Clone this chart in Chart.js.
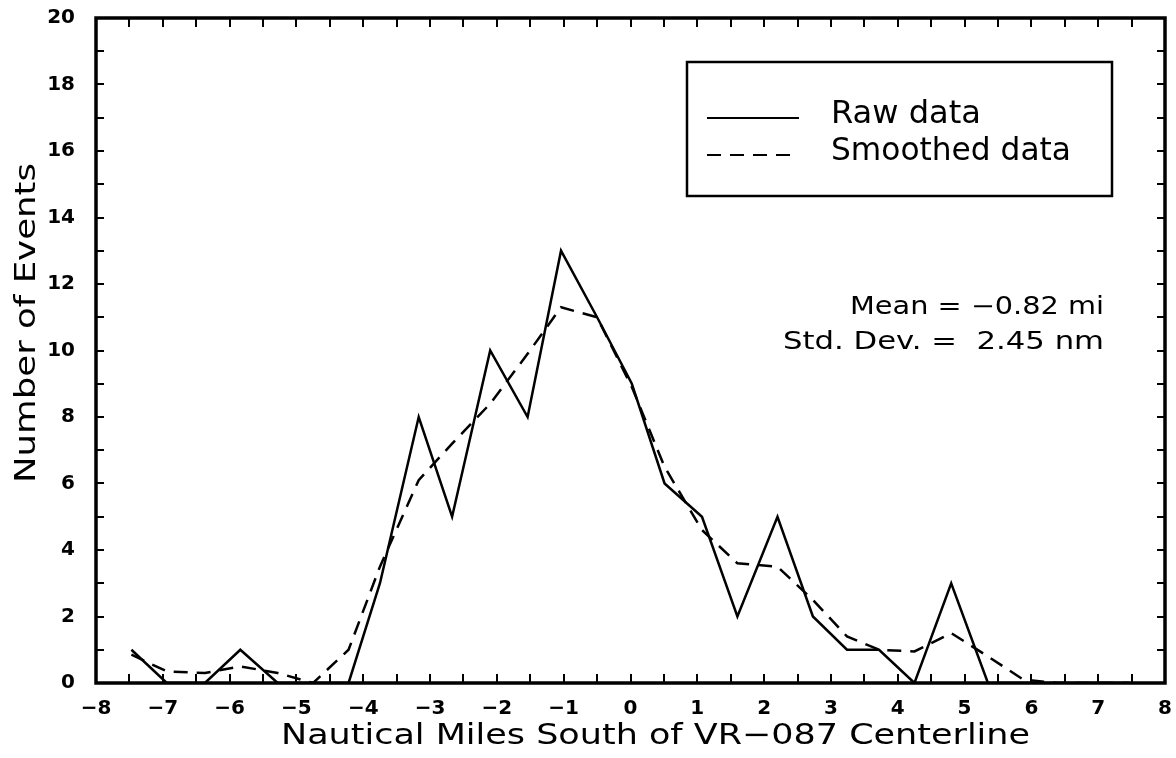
<!DOCTYPE html>
<html>
<head>
<meta charset="utf-8">
<script src="https://cdn.jsdelivr.net/npm/chart.js@4.4.1/dist/chart.umd.min.js"></script>
<style>
  html, body { margin: 0; padding: 0; background: #ffffff; }
  #wrap { position: relative; width: 1176px; height: 758px; }
  canvas { display: block; }
</style>
</head>
<body>
<div id="wrap"><canvas id="c" width="1176" height="758"></canvas></div>
<script>
// ---- Data ----
const binCenters = [-7.47, -6.94, -6.37, -5.84, -5.28, -4.75, -4.22, -3.75, -3.17, -2.67, -2.10, -1.54, -1.04, -0.50, 0.02, 0.51, 1.07, 1.60, 2.20, 2.73, 3.24, 3.72, 4.25, 4.80, 5.35, 5.88, 6.41, 6.94, 7.47];
const rawCounts = [1, 0, 0, 1, 0, 0, 0, 3, 8, 5, 10, 8, 13, 11, 9, 6, 5, 2, 5, 2, 1, 1, 0, 3, 0, 0, 0, 0, 0];
const smoothedCounts = [0.85, 0.35, 0.3, 0.5, 0.3, 0.0, 1.0, 3.5, 6.1, 7.2, 8.4, 9.9, 11.3, 11.0, 8.9, 6.5, 4.6, 3.6, 3.5, 2.5, 1.4, 1.0, 0.95, 1.5, 0.8, 0.1, 0, 0, 0];
const seriesNames = ["Raw data", "Smoothed data"];
const xTickValues = [-8, -7, -6, -5, -4, -3, -2, -1, 0, 1, 2, 3, 4, 5, 6, 7, 8];
const yTickValues = [0, 2, 4, 6, 8, 10, 12, 14, 16, 18, 20];
const xTitle = "Nautical Miles South of VR\u2212087 Centerline";
const yTitle = "Number of Events";
const statLines = ["Mean = \u22120.82 mi", "Std. Dev. =  2.45 nm"];

const FONT = "'DejaVu Sans', 'Liberation Sans', sans-serif";

function toPoints(xs, ys) { return xs.map((x, i) => ({ x: x, y: ys[i] })); }

// draw text horizontally stretched so it spans [x0, x0+w], vertically centred at y
function fitText(ctx, text, x0, w, y, size) {
  ctx.save();
  ctx.font = size + 'px ' + FONT;
  const m = ctx.measureText(text).width;
  ctx.translate(x0, y);
  ctx.scale(w / m, 1);
  ctx.textAlign = 'left';
  ctx.textBaseline = 'middle';
  ctx.fillText(text, 0, 0);
  ctx.restore();
}

const decorPlugin = {
  id: 'decor',
  afterDatasetsDraw(chart) {
    const ctx = chart.ctx;
    const a = chart.chartArea;
    const xs = chart.scales.x, ys = chart.scales.y;
    ctx.save();
    ctx.strokeStyle = '#000';
    ctx.fillStyle = '#000';
    // inward ticks on all 4 sides
    ctx.lineWidth = 2;
    for (let v = -8; v <= 8.001; v += 0.5) {
      const px = Math.round(xs.getPixelForValue(v));
      ctx.beginPath(); ctx.moveTo(px, a.bottom); ctx.lineTo(px, a.bottom - 9); ctx.stroke();
      ctx.beginPath(); ctx.moveTo(px, a.top); ctx.lineTo(px, a.top + 9); ctx.stroke();
    }
    for (let v = 0; v <= 20; v += 1) {
      const py = Math.round(ys.getPixelForValue(v));
      ctx.beginPath(); ctx.moveTo(a.left, py); ctx.lineTo(a.left + 8, py); ctx.stroke();
      ctx.beginPath(); ctx.moveTo(a.right, py); ctx.lineTo(a.right - 8, py); ctx.stroke();
    }
    // frame
    ctx.lineWidth = 3.5;
    ctx.strokeRect(a.left, a.top, a.right - a.left, a.bottom - a.top);

    // legend box
    const lx = 687, ly = 62, lw = 425, lh = 134;
    ctx.lineWidth = 2.5;
    ctx.strokeRect(lx, ly, lw, lh);
    const ds = chart.data.datasets;
    const rows = [118, 155];
    const widths = [150, 240];
    ds.forEach((d, i) => {
      ctx.save();
      ctx.lineWidth = 2.2;
      ctx.setLineDash(d.borderDash || []);
      ctx.beginPath(); ctx.moveTo(707, rows[i]); ctx.lineTo(799, rows[i]); ctx.stroke();
      ctx.restore();
      fitText(ctx, d.label, 831, widths[i], rows[i] - 3, 32);
    });

    // stats text
    fitText(ctx, statLines[0], 850, 254, 308, 24);
    fitText(ctx, statLines[1], 783, 321, 343, 24);

    // axis titles
    fitText(ctx, xTitle, 281, 749, 736, 29);
    ctx.save();
    ctx.translate(27, 483);
    ctx.rotate(-Math.PI / 2);
    fitText(ctx, yTitle, 0, 320, 0, 29);
    ctx.restore();
    ctx.restore();
  }
};

new Chart(document.getElementById('c'), {
  type: 'scatter',
  data: {
    datasets: [
      {
        label: seriesNames[0],
        data: toPoints(binCenters, rawCounts),
        showLine: true,
        borderColor: '#000',
        backgroundColor: '#000',
        borderWidth: 2.5,
        pointRadius: 0,
        tension: 0
      },
      {
        label: seriesNames[1],
        data: toPoints(binCenters, smoothedCounts),
        showLine: true,
        borderColor: '#000',
        backgroundColor: '#000',
        borderWidth: 2.5,
        borderDash: [14, 9],
        pointRadius: 0,
        tension: 0
      }
    ]
  },
  options: {
    responsive: false,
    animation: false,
    layout: { padding: { left: 0, top: 18, right: 11, bottom: 0 } },
    plugins: { legend: { display: false }, tooltip: { enabled: false } },
    scales: {
      x: {
        type: 'linear', min: -8, max: 8,
        afterFit(s) { s.height = 75; s.paddingLeft = 0; s.paddingRight = 0; },
        afterBuildTicks(s) { s.ticks = xTickValues.map(v => ({ value: v })); },
        grid: { display: false, drawTicks: false },
        border: { display: false },
        ticks: {
          padding: 14, color: '#000', maxRotation: 0, autoSkip: false,
          font: { family: FONT, size: 20, weight: 'bold' },
          callback: v => (v < 0 ? '\u2212' + Math.abs(v) : String(v))
        }
      },
      y: {
        type: 'linear', min: 0, max: 20,
        afterFit(s) { s.width = 96; s.paddingTop = 0; s.paddingBottom = 0; },
        afterBuildTicks(s) { s.ticks = yTickValues.map(v => ({ value: v })); },
        grid: { display: false, drawTicks: false },
        border: { display: false },
        ticks: {
          padding: 21, color: '#000', autoSkip: false,
          font: { family: FONT, size: 20, weight: 'bold' },
          callback: v => String(v)
        }
      }
    }
  },
  plugins: [decorPlugin]
});
</script>
</body>
</html>
